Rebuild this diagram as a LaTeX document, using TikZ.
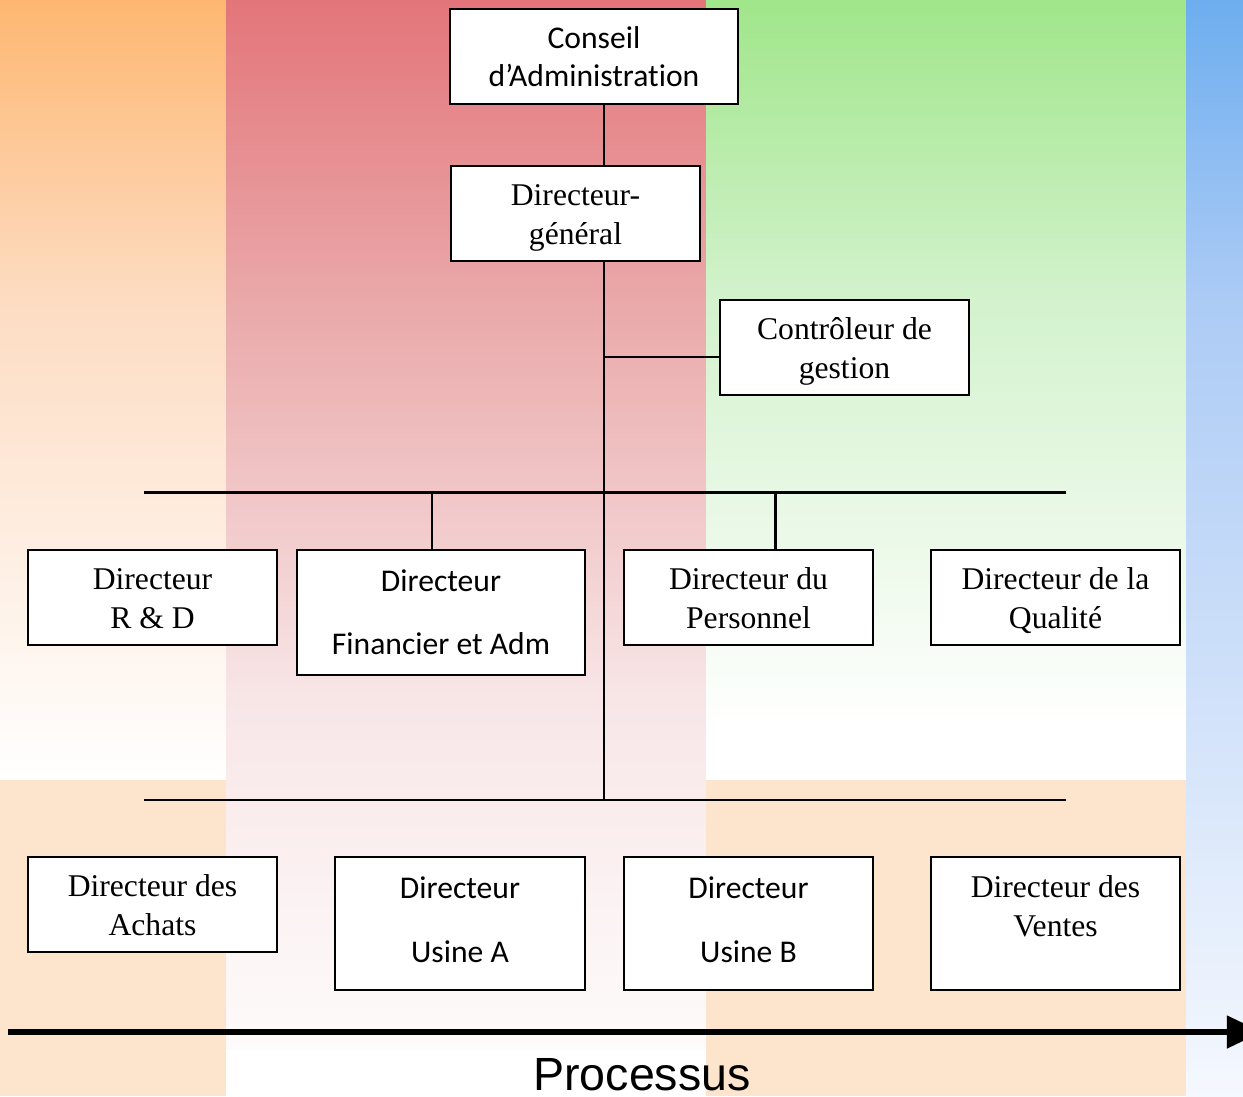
\documentclass[tikz,border=0pt]{standalone}
\usepackage{fontspec}
\setmainfont{Liberation Serif}
\newfontfamily\calibri[Ligatures=NoCommon]{Carlito}
\newfontfamily\arialf{Liberation Sans}
\usetikzlibrary{arrows.meta}
\definecolor{orA}{HTML}{FDB771}
\definecolor{orB}{HTML}{FDDCC2}
\definecolor{rdA}{HTML}{E3757A}
\definecolor{rdB}{HTML}{EAA8A9}
\definecolor{rdC}{HTML}{F8E6E7}
\definecolor{rdD}{HTML}{FEFBFB}
\definecolor{grA}{HTML}{A0E68A}
\definecolor{grB}{HTML}{D3F2CD}
\definecolor{blA}{HTML}{6DAEEF}
\definecolor{blB}{HTML}{ACCBF5}
\definecolor{blC}{HTML}{F5F8FE}
\definecolor{peach}{HTML}{FDE4CC}
\newcommand{\topstrut}{\rule{0pt}{17pt}}
\newcommand{\botstrut}{\rule[-4pt]{0pt}{4pt}}
\newcommand{\lowstrut}{\rule[-4.5pt]{0pt}{4.5pt}}
\tikzset{
  orgbox/.style={draw=black, line width=1.1pt, fill=white, inner sep=0pt, align=center},
  serifbox/.style={orgbox, font=\fontsize{18}{22}\selectfont},
  calibox/.style={orgbox, font=\calibri\fontsize{18}{22}\selectfont},
  conn/.style={line width=1.1pt},
  busbar/.style={line width=1.7pt},
}
\begin{document}
\begin{tikzpicture}[x=0.02cm,y=-0.02cm]
\useasboundingbox (0,0) rectangle (1243,1096);
\begin{scope}
\clip (0,0) rectangle (1243,1096);
% background stripes
\shade[top color=orA, bottom color=orB] (0,0) rectangle (226,300);
\shade[top color=orB, bottom color=white] (0,300) rectangle (226,780);
\fill[peach] (0,780) rectangle (226,1096);
\shade[top color=rdA, bottom color=rdB] (226,0) rectangle (706,300);
\shade[top color=rdB, bottom color=rdC] (226,300) rectangle (706,700);
\shade[top color=rdC, bottom color=rdD] (226,700) rectangle (706,1050);
\fill[white] (226,1050) rectangle (706,1096);
\shade[top color=grA, bottom color=grB] (706,0) rectangle (1186,300);
\shade[top color=grB, bottom color=white] (706,300) rectangle (1186,730);
\fill[white] (706,730) rectangle (1186,780);
\fill[peach] (706,780) rectangle (1186,1096);
\shade[top color=blA, bottom color=blB] (1186,0) rectangle (1243,300);
\shade[top color=blB, bottom color=blC] (1186,300) rectangle (1243,1096);

% nodes
\node[calibox, minimum width=5.76cm, minimum height=1.9cm] (cons) at (594,56.5) {Conseil\\d’Administration};
\node[serifbox, minimum width=4.98cm, minimum height=1.9cm] (dg) at (575.5,213.5) {\topstrut Directeur-\\général\botstrut};
\node[serifbox, minimum width=4.98cm, minimum height=1.9cm] (ctrl) at (844.5,347.5) {\topstrut Contrôleur de\\gestion\botstrut};
\node[serifbox, minimum width=4.98cm, minimum height=1.9cm] (rd) at (152.5,597.5) {\topstrut Directeur\\R \& D\botstrut};
\node[calibox, minimum width=5.76cm, minimum height=2.5cm] (fin) at (441,612.5) {Directeur\\[14pt]Financier et Adm};
\node[serifbox, minimum width=4.98cm, minimum height=1.9cm] (pers) at (748.5,597.5) {\topstrut Directeur du\\Personnel\botstrut};
\node[serifbox, minimum width=4.98cm, minimum height=1.9cm] (qual) at (1055.5,597.5) {\topstrut Directeur de la\\Qualité\botstrut};
\node[serifbox, minimum width=4.98cm, minimum height=1.9cm] (ach) at (152.5,904.5) {\topstrut Directeur des\\Achats\botstrut};
\node[calibox, minimum width=5.0cm, minimum height=2.66cm] (usa) at (460,923.5) {Directeur\\[14pt]Usine A\lowstrut};
\node[calibox, minimum width=4.98cm, minimum height=2.66cm] (usb) at (748.5,923.5) {Directeur\\[14pt]Usine B\lowstrut};
\node[serifbox, minimum width=4.98cm, minimum height=2.66cm] (vent) at (1055.5,923.5) {\topstrut Directeur des\\Ventes\\[-4pt]\strut};

% connectors
\coordinate (spine) at (604,800);
\coordinate (ctrlc) at (720,357);
\coordinate (bar1L) at (144,492);
\coordinate (bar1R) at (1066,492);
\coordinate (bar2L) at (144,800);
\coordinate (bar2R) at (1066,800);
\coordinate (finc) at (432,492);
\coordinate (persc) at (775,492);
\draw[conn] (cons.south -| spine) -- (dg.north -| spine);
\draw[conn] (dg.south -| spine) -- (spine);
\draw[conn] (spine |- ctrlc) -- (ctrl.west |- ctrlc);
\draw[busbar] (bar1L) -- (bar1R);
\draw[conn] (bar2L) -- (bar2R);
\draw[conn] (finc) -- (finc |- fin.north);
\draw[busbar] (persc) -- (persc |- pers.north);

% process arrow
\coordinate (pstart) at (8,1032);
\coordinate (pend) at (1262,1032);
\draw[line width=3.4pt, -{Triangle[length=20pt,width=18pt]}] (pstart) -- (pend);
\node[font=\arialf\fontsize{26.5}{30}\selectfont, anchor=base] (proc) at (642,1090) {Processus};
\end{scope}
\end{tikzpicture}
\end{document}
